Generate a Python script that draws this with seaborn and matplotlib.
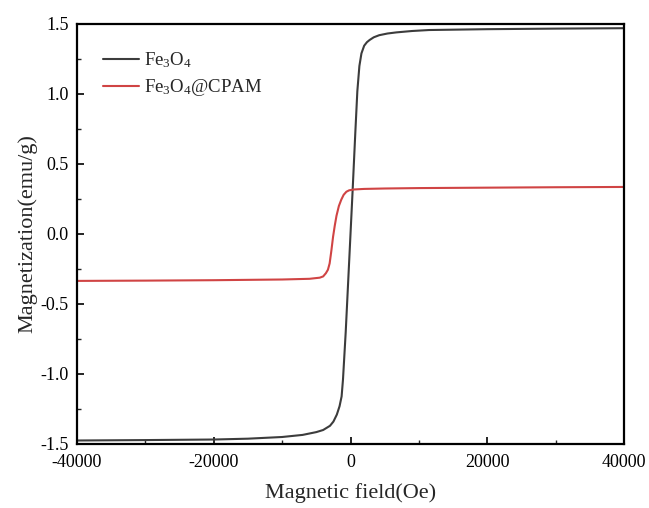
import numpy as np
import pandas as pd
import matplotlib
matplotlib.use("Agg")
import matplotlib.pyplot as plt
import seaborn as sns

# --- data ---
fe_field = [-40000, -30000, -20000, -15000, -10000, -7000, -5000, -4000, -3000,
            -2500, -2000, -1600, -1300, -1100, -700, -300, 0, 300, 700, 1000, 1300,
            1600, 2000, 2400, 2800, 3400, 4200, 5400, 6700, 9000, 11500, 20000,
            30000, 40000]
fe_mag = [-1.475, -1.472, -1.468, -1.462, -1.45, -1.435, -1.415, -1.40, -1.37,
          -1.34, -1.29, -1.23, -1.16, -1.04, -0.70, -0.30, 0.0, 0.30, 0.72, 1.02,
          1.20, 1.29, 1.345, 1.37, 1.386, 1.405, 1.42, 1.432, 1.44, 1.45, 1.457,
          1.463, 1.467, 1.47]

cp_field = [-40000, -30000, -20000, -10000, -6000, -4500, -4000, -3600, -3300,
            -3050, -2800, -2550, -2300, -2050, -1700, -1350, -1000, -600, -200,
            500, 2000, 5000, 10000, 20000, 30000, 40000]
cp_mag = [-0.335, -0.333, -0.330, -0.325, -0.320, -0.312, -0.303, -0.28, -0.255,
          -0.21, -0.12, -0.02, 0.06, 0.13, 0.20, 0.245, 0.28, 0.302, 0.312,
          0.318, 0.322, 0.325, 0.328, 0.331, 0.334, 0.336]

labels = ["Fe$_3$O$_4$", "Fe$_3$O$_4$@CPAM"]
colors = ["#3c3c3c", "#d04444"]

x_ticks = [-40000, -20000, 0, 20000, 40000]
y_ticks = [-1.5, -1.0, -0.5, 0.0, 0.5, 1.0, 1.5]

sns.set_theme(style="white")
plt.rcParams["font.family"] = ["Liberation Serif", "DejaVu Serif"]
plt.rcParams["mathtext.fontset"] = "custom"
plt.rcParams["mathtext.rm"] = "Liberation Serif"
plt.rcParams["mathtext.it"] = "Liberation Serif:italic"

fig = plt.figure(figsize=(6.49, 5.08), dpi=100)
ax = fig.add_axes([77 / 649, 1 - 444 / 508, (624 - 77) / 649, (444 - 24) / 508])

sns.lineplot(x=fe_field, y=fe_mag, ax=ax, color=colors[0], lw=1.5,
             label=labels[0], estimator=None)
sns.lineplot(x=cp_field, y=cp_mag, ax=ax, color=colors[1], lw=1.5,
             label=labels[1], estimator=None)

ax.set_xlim(-40000, 40000)
ax.set_ylim(-1.5, 1.5)
ax.set_xticks(x_ticks)
ax.set_yticks(y_ticks)
ax.set_xticklabels([str(v) for v in x_ticks])
ax.set_yticklabels([f"{v:.1f}" for v in y_ticks])
ax.set_xticks([-30000, -10000, 10000, 30000], minor=True)
ax.set_yticks([-1.25, -0.75, -0.25, 0.25, 0.75, 1.25], minor=True)
ax.tick_params(axis="both", which="major", direction="in", length=5, width=1.2,
               labelsize=13, colors="black", bottom=True, left=True,
               top=False, right=False)
ax.tick_params(axis="x", which="major", pad=7)
ax.tick_params(axis="y", which="major", pad=6)
ax.tick_params(axis="both", which="minor", direction="in", length=3, width=1.0,
               bottom=True, left=True, top=False, right=False)
for s in ax.spines.values():
    s.set_color("black")
    s.set_linewidth(1.6)

ax.set_xlabel("Magnetic field(Oe)", fontsize=16, labelpad=9)
ax.set_ylabel("Magnetization(emu/g)", fontsize=16, labelpad=2)

ax.legend(loc="upper left", bbox_to_anchor=(0.033, 0.955), frameon=False,
          fontsize=13.5, handlelength=1.95, handletextpad=0.25, labelspacing=0.38,
          borderaxespad=0)

fig.savefig("out.png", dpi=100)
